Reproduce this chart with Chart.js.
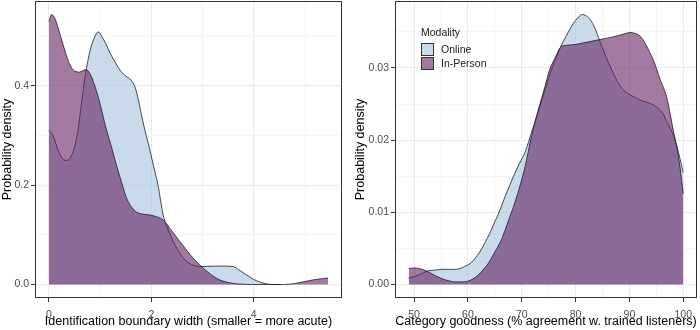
<!DOCTYPE html>
<html>
<head>
<meta charset="utf-8">
<script src="https://cdn.jsdelivr.net/npm/chart.js@4.4.1/dist/chart.umd.min.js"></script>
<style>
  html, body { margin: 0; padding: 0; background: #ffffff; }
  #wrap { position: relative; width: 700px; height: 330px; overflow: hidden; font-family: "Liberation Sans", Arial, sans-serif; }
  canvas { position: absolute; top: 0; }
  #c1 { left: 0; }
  #c2 { left: 350px; }
  #legend { position: absolute; left: 421px; top: 26px; color: #1a1a1a; font-size: 10.5px; }
  #legend .lt { position: absolute; left: 0; top: 0; line-height: 13px; white-space: nowrap; font-size: 10.5px; }
  #legend .row { position: absolute; left: 0; height: 13px; white-space: nowrap; }
  #legend .key { position: absolute; left: 0; top: 0; width: 13px; height: 13px; box-sizing: border-box; border: 1px solid #333; }
  #legend .lab { position: absolute; left: 20px; top: 0; line-height: 13px; }
</style>
</head>
<body>
<div id="wrap">
  <canvas id="c1" width="350" height="330"></canvas>
  <canvas id="c2" width="350" height="330"></canvas>
  <div id="legend"></div>
</div>
<script>
// ---------- data ----------
const seriesNames = ['Online', 'In-Person'];
const legendTitle = 'Modality';

// Left panel: identification boundary width
const leftOnlineX = [0.00,0.08,0.18,0.28,0.35,0.45,0.55,0.63,0.72,0.82,0.90,0.96,1.03,1.11,1.20,1.31,1.40,1.50,1.60,1.68,1.74,1.80,1.86,1.94,2.04,2.13,2.23,2.33,2.43,2.56,2.69,2.82,2.95,3.21,3.45,3.60,3.73,3.86,4.00,4.18,4.35,4.50];
const leftOnlineY = [0.311,0.300,0.270,0.252,0.250,0.262,0.300,0.360,0.428,0.478,0.500,0.509,0.500,0.485,0.465,0.445,0.430,0.420,0.412,0.398,0.375,0.345,0.317,0.284,0.240,0.200,0.140,0.110,0.086,0.062,0.046,0.039,0.036,0.037,0.037,0.036,0.028,0.019,0.010,0.003,0.000,0.000];
const leftInPersonX = [0.00,0.05,0.12,0.23,0.32,0.40,0.50,0.60,0.72,0.80,0.88,0.98,1.11,1.24,1.32,1.42,1.52,1.62,1.71,1.81,1.91,2.05,2.23,2.40,2.56,2.75,2.95,3.15,3.34,3.50,3.70,4.00,4.30,4.60,4.80,5.00,5.20,5.45];
const leftInPersonY = [0.530,0.544,0.535,0.499,0.468,0.445,0.430,0.428,0.433,0.425,0.405,0.371,0.317,0.270,0.240,0.205,0.173,0.155,0.146,0.142,0.141,0.138,0.130,0.108,0.086,0.061,0.039,0.021,0.009,0.004,0.001,0.000,0.000,0.000,0.002,0.006,0.010,0.013];

// Right panel: category goodness
const rightOnlineX = [49,50,51,52.6,54,55.1,56.5,57.6,58.5,59.4,60.4,61.3,62.2,63.1,64,65,66,66.9,67.8,68.7,69.6,70.6,72,73.5,75.5,76.5,77.4,78.6,79.6,80.4,81.1,82,82.7,83.6,84.5,85.5,86.4,87,88,88.8,90.1,91.3,92.5,93.8,95,96.3,96.9,97.6,98.1,98.8,99.4,100];
const rightOnlineY = [0.0009,0.0011,0.0014,0.0019,0.0020,0.0021,0.0021,0.0021,0.0022,0.0025,0.0029,0.0036,0.0045,0.0057,0.0070,0.0087,0.0104,0.0122,0.0138,0.0154,0.0168,0.0183,0.0215,0.0250,0.0297,0.0316,0.0332,0.0349,0.0362,0.0369,0.0374,0.0372,0.0367,0.0355,0.0337,0.0318,0.0302,0.0293,0.0278,0.0270,0.0263,0.0258,0.0254,0.0251,0.0246,0.0236,0.0226,0.0216,0.0208,0.0192,0.0174,0.0155];
const rightInPersonX = [49,50,51.5,52.6,54,55.1,56.5,57.6,59,60,61,61.9,63,63.75,65,66.2,67.5,68.7,69.6,70.6,71.8,73,74.3,75.2,76.2,77.1,78,79.5,81,83,85,87,89,90.1,91,92,93,93.8,94.5,95.7,96.9,97.6,98.1,98.8,99.4,100];
const rightInPersonY = [0.0022,0.0023,0.0021,0.00175,0.0012,0.00083,0.0005,0.00036,0.00036,0.00046,0.0008,0.0013,0.0022,0.0029,0.0045,0.0062,0.0088,0.0113,0.0135,0.0163,0.0205,0.0240,0.0274,0.0298,0.0314,0.0328,0.0331,0.0332,0.0334,0.0337,0.0340,0.0343,0.0347,0.0349,0.0348,0.0344,0.0333,0.0321,0.0310,0.0284,0.0260,0.0235,0.0215,0.0190,0.0162,0.0126];

// Tick values and labels
const leftXTicks = [0, 2, 4];
const leftXTickLabels = ['0', '2', '4'];
const leftXMinor = [1, 3, 5];
const leftYTicks = [0, 0.2, 0.4];
const leftYTickLabels = ['0.0', '0.2', '0.4'];
const leftYMinor = [0.1, 0.3, 0.5];
const rightXTicks = [50, 60, 70, 80, 90, 100];
const rightXTickLabels = ['50', '60', '70', '80', '90', '100'];
const rightXMinor = [55, 65, 75, 85, 95];
const rightYTicks = [0, 0.01, 0.02, 0.03];
const rightYTickLabels = ['0.00', '0.01', '0.02', '0.03'];
const rightYMinor = [0.005, 0.015, 0.025, 0.035];

const leftXTitle = 'Identification boundary width (smaller = more acute)';
const rightXTitle = 'Category goodness (% agreement w. trained listeners)';
const yTitle = 'Probability density';

// ---------- styles ----------
const FONT = '"Liberation Sans", Arial, sans-serif';
const onlineFill = 'rgba(165,193,220,0.6)';
const inPersonFill = 'rgba(102,33,97,0.6)';
const outline = '#1c1c2a';

function pts(xs, ys) { return xs.map((x, i) => ({ x: x, y: ys[i] })); }
function expand(lo, hi) { const d = (hi - lo) * 0.05; return [lo - d, hi + d]; }

const frame = {
  id: 'frame',
  afterDraw(chart) {
    const a = chart.chartArea, c = chart.ctx;
    c.save();
    c.strokeStyle = '#333333';
    c.lineWidth = 1;
    c.strokeRect(Math.round(a.left) + 0.5, Math.round(a.top) + 0.5, Math.round(a.right - a.left) - 1, Math.round(a.bottom - a.top) - 1);
    c.restore();
  }
};

function axis(kind, majors, minors, labels, lim, title, size, titlePad) {
  const all = majors.concat(minors).sort((a, b) => a - b);
  const isMajor = v => majors.some(m => Math.abs(m - v) < 1e-9);
  return {
    type: 'linear',
    min: lim[0], max: lim[1],
    afterBuildTicks: s => { s.ticks = all.map(v => ({ value: v })); },
    afterFit: s => {
      if (kind === 'x') s.height = size; else s.width = size;
      s.paddingTop = 0; s.paddingBottom = 0; s.paddingLeft = 0; s.paddingRight = 0;
    },
    grid: {
      color: c => (c.tick && isMajor(c.tick.value)) ? '#EBEBEB' : '#F4F4F4',
      lineWidth: 1,
      drawTicks: true,
      tickLength: 4,
      tickWidth: 1,
      tickColor: c => (c.tick && isMajor(c.tick.value)) ? '#333333' : 'rgba(0,0,0,0)'
    },
    border: { display: false },
    ticks: {
      autoSkip: false, maxRotation: 0, minRotation: 0,
      padding: kind === 'x' ? 7 : 2,
      color: '#4D4D4D',
      font: { family: FONT, size: 10.5 },
      callback: v => { const i = majors.findIndex(m => Math.abs(m - v) < 1e-9); return i >= 0 ? labels[i] : ''; }
    },
    title: { display: true, text: title, color: '#000000', font: { family: FONT, size: 12.5 }, padding: titlePad }
  };
}

function datasets(ox, oy, px, py) {
  const common = { fill: 'origin', borderColor: outline, borderWidth: 0.8, pointRadius: 0, pointHoverRadius: 0, cubicInterpolationMode: 'monotone' };
  return [
    Object.assign({ label: seriesNames[0], data: pts(ox, oy), backgroundColor: onlineFill, order: 2 }, common),
    Object.assign({ label: seriesNames[1], data: pts(px, py), backgroundColor: inPersonFill, order: 1 }, common)
  ];
}

function baseOptions(padRight, xs, ys) {
  return {
    responsive: false, animation: false, devicePixelRatio: 1,
    layout: { padding: { left: 0, top: 1, right: padRight, bottom: 0 } },
    plugins: { legend: { display: false }, tooltip: { enabled: false } },
    scales: { x: xs, y: ys }
  };
}

new Chart(document.getElementById('c1'), {
  type: 'line',
  data: { datasets: datasets(leftOnlineX, leftOnlineY, leftInPersonX, leftInPersonY) },
  options: baseOptions(8,
    axis('x', leftXTicks, leftXMinor, leftXTickLabels, expand(0, 5.45), leftXTitle, 32, { top: 0, bottom: 1 }),
    axis('y', leftYTicks, leftYMinor, leftYTickLabels, expand(0, 0.544), yTitle, 35, { top: 0, bottom: 0 })),
  plugins: [frame]
});

new Chart(document.getElementById('c2'), {
  type: 'line',
  data: { datasets: datasets(rightOnlineX, rightOnlineY, rightInPersonX, rightInPersonY) },
  options: baseOptions(3,
    axis('x', rightXTicks, rightXMinor, rightXTickLabels, expand(49, 100), rightXTitle, 32, { top: 0, bottom: 1 }),
    axis('y', rightYTicks, rightYMinor, rightYTickLabels, expand(0, 0.0374), yTitle, 45, { top: 3, bottom: 0 })),
  plugins: [frame]
});

// ---------- legend (HTML, inside right panel) ----------
(function () {
  const lg = document.getElementById('legend');
  const t = document.createElement('div');
  t.className = 'lt'; t.textContent = legendTitle; lg.appendChild(t);
  const fills = [onlineFill, inPersonFill];
  seriesNames.forEach((name, i) => {
    const row = document.createElement('div');
    row.className = 'row'; row.style.top = (17 + i * 13.5) + 'px';
    const k = document.createElement('span');
    k.className = 'key'; k.style.background = fills[i];
    const l = document.createElement('span');
    l.className = 'lab'; l.textContent = name;
    row.appendChild(k); row.appendChild(l); lg.appendChild(row);
  });
})();
</script>
</body>
</html>
